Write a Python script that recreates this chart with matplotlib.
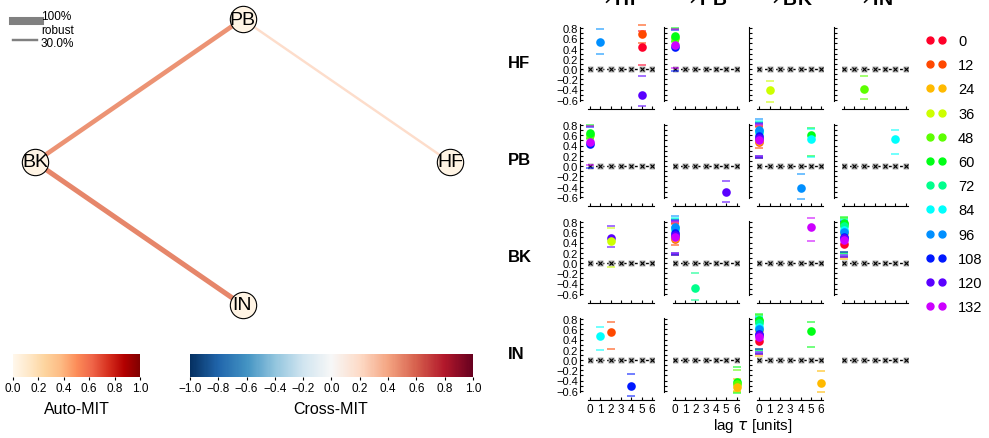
import numpy as np
import matplotlib.pyplot as plt
from matplotlib.lines import Line2D
from matplotlib.cm import ScalarMappable
from matplotlib.colors import Normalize

plt.rcParams['font.family'] = ['Liberation Sans', 'DejaVu Sans']

# ── data ──────────────────────────────────────────────────────────────────────
var_names = ['HF', 'PB', 'BK', 'IN']
windows = [0, 12, 24, 36, 48, 60, 72, 84, 96, 108, 120, 132]
lags = np.arange(0, 7)

# network: node positions, edges (cross-MIT value, robustness fraction)
node_x = [1, 0, -1, 0]
node_y = [0, 1, 0, -1]
node_auto = [0.03, 0.03, 0.03, 0.03]
edge_src = ['BK', 'BK', 'PB']
edge_tgt = ['PB', 'IN', 'HF']
edge_val = [0.45, 0.49, 0.18]
edge_robust = [0.57, 0.63, 0.30]

# lag functions per link: (lag, window, value, lower, upper)
HF_HF = [(1, 96, 0.52, 0.30, 0.78), (5, 12, 0.68, 0.50, 0.85),
         (5, 0, 0.43, 0.08, 0.75), (5, 120, -0.50, -0.72, -0.13)]
HF_PB = [(0, 48, 0.60, 0.53, 0.78), (0, 60, 0.64, 0.55, 0.80),
         (0, 108, 0.43, -0.04, 0.77), (0, 132, 0.46, 0.02, 0.79)]
HF_BK = [(1, 36, -0.40, -0.65, -0.24)]
HF_IN = [(2, 48, -0.39, -0.58, -0.14)]
PB_HF = [(0, 48, 0.60, 0.53, 0.78), (0, 60, 0.64, 0.55, 0.80),
         (0, 108, 0.43, -0.04, 0.77), (0, 132, 0.46, 0.02, 0.79)]
PB_PB = [(5, 120, -0.50, -0.70, -0.29)]
PB_BK = [(0, 0, 0.50, 0.15, 0.79), (0, 12, 0.47, 0.36, 0.77), (0, 24, 0.48, 0.20, 0.80),
         (0, 72, 0.66, 0.18, 0.86), (0, 84, 0.68, 0.20, 0.88), (0, 96, 0.71, 0.19, 0.91),
         (0, 108, 0.59, 0.15, 0.84), (0, 120, 0.54, 0.17, 0.82), (0, 132, 0.50, 0.19, 0.80),
         (4, 96, -0.42, -0.64, -0.15), (5, 60, 0.60, 0.19, 0.74), (5, 84, 0.52, 0.17, 0.72)]
PB_IN = [(5, 84, 0.52, 0.23, 0.71)]
BK_HF = [(2, 120, 0.49, 0.31, 0.72), (2, 36, 0.43, -0.08, 0.68)]
BK_PB = [(0, 0, 0.50, 0.15, 0.79), (0, 12, 0.47, 0.36, 0.77), (0, 24, 0.48, 0.20, 0.80),
         (0, 72, 0.66, 0.18, 0.86), (0, 84, 0.68, 0.20, 0.88), (0, 96, 0.71, 0.19, 0.91),
         (0, 108, 0.59, 0.15, 0.84), (0, 120, 0.54, 0.17, 0.82), (0, 132, 0.50, 0.19, 0.80),
         (2, 72, -0.49, -0.72, -0.20)]
BK_BK = [(5, 132, 0.70, 0.42, 0.88)]
BK_IN = [(0, 0, 0.38, 0.12, 0.72), (0, 24, 0.58, 0.08, 0.80), (0, 48, 0.76, 0.22, 0.88),
         (0, 60, 0.78, 0.20, 0.90), (0, 72, 0.72, 0.18, 0.86), (0, 84, 0.64, 0.16, 0.84),
         (0, 96, 0.60, 0.14, 0.82), (0, 108, 0.50, 0.22, 0.80), (0, 120, 0.48, 0.12, 0.78),
         (0, 132, 0.45, 0.15, 0.79)]
IN_HF = [(1, 84, 0.46, 0.20, 0.65), (2, 12, 0.54, 0.21, 0.75), (4, 108, -0.50, -0.70, -0.27)]
IN_PB = [(6, 60, -0.42, -0.65, -0.14), (6, 48, -0.46, -0.62, -0.20), (6, 24, -0.53, -0.60, -0.37)]
IN_BK = [(0, 0, 0.38, 0.12, 0.72), (0, 24, 0.58, 0.08, 0.80), (0, 48, 0.76, 0.22, 0.88),
         (0, 60, 0.78, 0.20, 0.90), (0, 72, 0.72, 0.18, 0.86), (0, 84, 0.64, 0.16, 0.84),
         (0, 96, 0.60, 0.14, 0.82), (0, 108, 0.50, 0.22, 0.80), (0, 120, 0.48, 0.12, 0.78),
         (0, 132, 0.45, 0.15, 0.79), (5, 60, 0.57, 0.25, 0.74), (6, 24, -0.44, -0.62, -0.21)]
IN_IN = []

links = {('HF', 'HF'): HF_HF, ('HF', 'PB'): HF_PB, ('HF', 'BK'): HF_BK, ('HF', 'IN'): HF_IN,
         ('PB', 'HF'): PB_HF, ('PB', 'PB'): PB_PB, ('PB', 'BK'): PB_BK, ('PB', 'IN'): PB_IN,
         ('BK', 'HF'): BK_HF, ('BK', 'PB'): BK_PB, ('BK', 'BK'): BK_BK, ('BK', 'IN'): BK_IN,
         ('IN', 'HF'): IN_HF, ('IN', 'PB'): IN_PB, ('IN', 'BK'): IN_BK, ('IN', 'IN'): IN_IN}

# ── figure ────────────────────────────────────────────────────────────────────
W, H = 989, 439
fig = plt.figure(figsize=(W / 100, H / 100), dpi=100)

def box(x0, y0, x1, y1):
    return [x0 / W, 1 - y1 / H, (x1 - x0) / W, (y1 - y0) / H]

win_cols = {w: plt.cm.gist_rainbow(i / 12.) for i, w in enumerate(windows)}
cross_cmap = plt.cm.RdBu_r
cross_norm = Normalize(-1, 1)
auto_cmap = plt.cm.OrRd
auto_norm = Normalize(0, 1)

# network graph
axn = fig.add_axes(box(0, 0, 485, 330))
axn.set_xlim(-1.169, 1.169)
axn.set_ylim(-1.168, 1.140)
axn.axis('off')
pos = {n: (x, y) for n, x, y in zip(var_names, node_x, node_y)}
for s, t, v, r in zip(edge_src, edge_tgt, edge_val, edge_robust):
    axn.plot([pos[s][0], pos[t][0]], [pos[s][1], pos[t][1]], color=cross_cmap(cross_norm(v)),
             lw=5.8 * r, solid_capstyle='butt', zorder=1)
for n, a in zip(var_names, node_auto):
    axn.scatter(*pos[n], s=360, color=auto_cmap(auto_norm(a)), edgecolor='black',
                linewidth=0.8, zorder=2)
    axn.text(*pos[n], n, ha='center', va='center', fontsize=14, zorder=3)

# robustness legend
fig.add_artist(Line2D([13 / W, 40 / W], [1 - 22 / H] * 2, lw=5.8, color='gray'))
fig.add_artist(Line2D([13 / W, 37 / W], [1 - 41 / H] * 2, lw=5.8 * 0.3, color='gray'))
for txt, yy in zip(['100%', 'robust', '30.0%'], [17, 31, 44]):
    fig.text(41 / W, 1 - yy / H, txt, fontsize=8.5, va='center', ha='left')

# colorbars
cax1 = fig.add_axes(box(13, 355, 140, 378))
cb1 = fig.colorbar(ScalarMappable(norm=auto_norm, cmap=auto_cmap), cax=cax1,
                   orientation='horizontal', ticks=np.arange(0, 1.01, 0.2))
cax2 = fig.add_axes(box(190, 355, 473, 378))
cb2 = fig.colorbar(ScalarMappable(norm=cross_norm, cmap=cross_cmap), cax=cax2,
                   orientation='horizontal', ticks=np.arange(-1, 1.01, 0.2))
for cb in (cb1, cb2):
    cb.outline.set_visible(False)
    cb.ax.tick_params(labelsize=8.5, length=2, pad=1.5)
fig.text(77 / W, 1 - 410 / H, 'Auto-MIT', ha='center', va='center', fontsize=11.5)
fig.text(331 / W, 1 - 410 / H, 'Cross-MIT', ha='center', va='center', fontsize=11.5)

# lag function matrix
pxu, pyu = 10.33, 51.25
xlim, ylim = (-0.2, 6.2), (-0.62, 0.82)
for i, src in enumerate(var_names):
    y0 = 70 + 97 * i
    for j, tgt in enumerate(var_names):
        x0 = 590 + 84.6 * j
        ax = fig.add_axes(box(x0 + xlim[0] * pxu, y0 - ylim[1] * pyu,
                              x0 + xlim[1] * pxu, y0 - ylim[0] * pyu))
        ax.set_xlim(*xlim)
        ax.set_ylim(*ylim)
        ax.patch.set_visible(False)
        ax.plot(lags, np.zeros(len(lags)), color='black', lw=1, ls=(0, (2, 2)), zorder=1)
        ax.plot(lags, np.zeros(len(lags)), 's', ms=4, mfc='#b0b0b0', mec='none', zorder=1.5)
        ax.plot(lags, np.zeros(len(lags)), 'x', ms=3, color='black', mew=0.8, zorder=1.6)
        for lag, w, v, lo, hi in links[(src, tgt)]:
            c = win_cols[w]
            ax.plot([lag, lag], [lo, hi], '_', ms=6, mew=1.3, color=c, alpha=0.6,
                    clip_on=False, zorder=2)
            ax.plot(lag, v, 'o', ms=6.2, color=c, mec='none', clip_on=False, zorder=3)
        for side in ['top', 'right']:
            ax.spines[side].set_visible(False)
        for side in ['left', 'bottom']:
            ax.spines[side].set_position(('outward', 5.8))
            ax.spines[side].set_linewidth(0.8)
        ax.set_xticks(lags)
        ax.set_yticks(np.round(np.arange(-0.6, 0.81, 0.2), 1))
        ax.set_yticks(np.round(np.arange(-0.5, 0.71, 0.2), 1), minor=True)
        ax.tick_params(which='both', direction='in', length=2.5, width=0.8,
                       labelsize=8, pad=1.5)
        if j > 0:
            ax.set_yticklabels([])
        if i < 3:
            ax.set_xticklabels([])
        else:
            ax.tick_params(axis='x', labelsize=8.5, pad=2)
        if i == 3 and j == 3:
            for side in ['left', 'bottom']:
                ax.spines[side].set_visible(False)
            ax.set_xticks([])
            ax.set_yticks([])
            ax.set_yticks([], minor=True)

for i, n in enumerate(var_names):
    fig.text(508 / W, 1 - (64 + 97 * i) / H, n, fontsize=12, weight='bold', va='center')
    fig.text((617 + 84.6 * i) / W, 1 - 5 / H, r'$\rightarrow$' + n, fontsize=14,
             weight='bold', ha='center', va='baseline')

fig.text(753 / W, 1 - 426 / H, r'lag $\tau$ [units]', ha='center', va='center', fontsize=11)

handles = [Line2D([], [], marker='o', ls='none', color=win_cols[w], ms=5) for w in windows]
fig.legend(handles, [str(w) for w in windows], numpoints=2, loc='upper left',
           bbox_to_anchor=(926 / W, 1 - 35 / H), frameon=False, fontsize=10.5,
           handlelength=1.4, handletextpad=0.8, labelspacing=0.7, borderaxespad=0,
           borderpad=0)

fig.savefig('out.png', dpi=100)
